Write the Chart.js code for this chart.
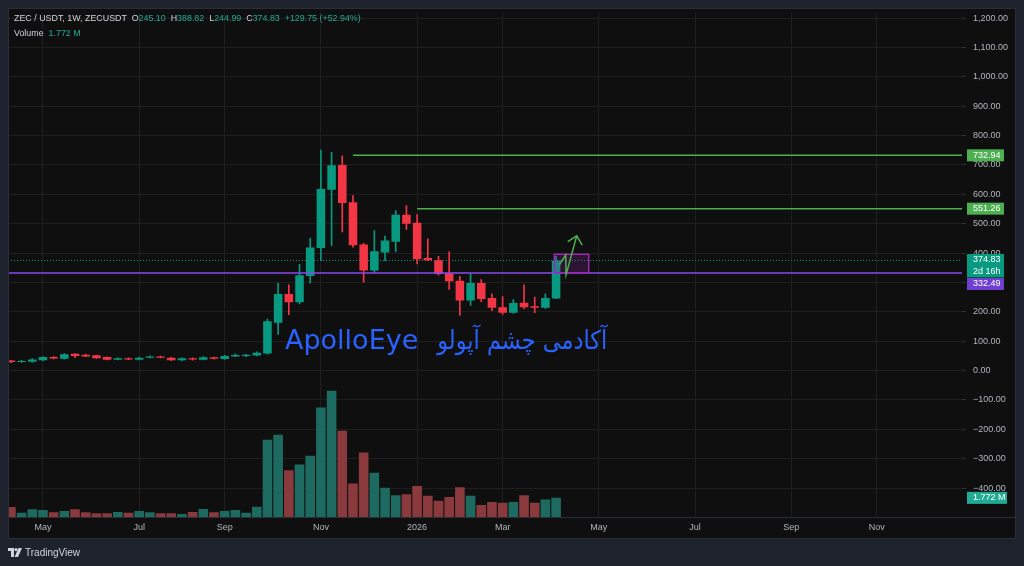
<!DOCTYPE html>
<html>
<head>
<meta charset="utf-8">
<script src="https://cdn.jsdelivr.net/npm/chart.js@4.4.1/dist/chart.umd.min.js"></script>
<style>
html,body{margin:0;padding:0;background:#1e222d;width:1024px;height:566px;overflow:hidden}
#wrap{position:relative;width:1024px;height:566px}
canvas{position:absolute;left:0;top:0}
.hdr{position:absolute;left:14px;font-family:"Liberation Sans",Arial,sans-serif;font-size:8.9px;color:#d1d4dc;white-space:pre;line-height:12px}
.g{color:#22ab94}
#footer{position:absolute;left:8px;top:546px;height:12px;display:flex;align-items:center;font-family:"Liberation Sans",Arial,sans-serif;font-size:10px;color:#d1d4dc}
#footer svg{margin-right:3px}
</style>
</head>
<body>
<div id="wrap">
<canvas id="c" width="1024" height="566"></canvas>
<div class="hdr" style="top:12px">ZEC / USDT, 1W, ZECUSDT  O<span class="g">245.10</span>  H<span class="g">388.82</span>  L<span class="g">244.99</span>  C<span class="g">374.83</span>  <span class="g">+129.75 (+52.94%)</span></div>
<div class="hdr" style="top:26.5px">Volume  <span class="g">1.772 M</span></div>
<div id="footer"><svg width="14" height="9" viewBox="0 0 14 9"><path d="M0 0h6v9H3V3H0z" fill="#d1d4dc"/><circle cx="8" cy="1.6" r="1.6" fill="#d1d4dc"/><path d="M10.5 0H14L10 9H6.6z" fill="#d1d4dc"/></svg><span>TradingView</span></div>
</div>
<script>
// ---- data (weekly candles, ZEC/USDT, from week of 2025-04-14 to week of 2026-04-06) ----
const open  = [34,29,30,35,46,40,57,54,52,46,37,42,37,44,48,44,35,42,37,45,39,48,50,51,58,163,261,233,322,417,616,700,573,429,341,402,439,531,503,383,376,331,306,239,298,247,216,197,231,219,214,245.10];
const high  = [35,35,41,47,48,58,58,56,53,47,43,43,45,50,49,45,43,43,48,46,52,57,55,64,175,298,292,362,450,751,743,731,596,433,477,458,545,562,531,449,389,404,321,331,310,261,252,242,292,250,261,388.82];
const low   = [27,28,29,34,40,39,44,47,41,36,36,37,36,43,43,34,34,35,36,39,38,47,47,50,56,123,190,227,298,374,425,472,420,301,335,374,405,481,363,374,325,276,188,222,235,204,191,195,210,197,212,244.99];
const close = [29,33,38,46,41,56,50,48,42,37,42,38,44,48,44,35,42,38,45,40,50,53,54,61,168,261,233,325,419,618,699,571,427,341,406,443,531,500,379,376,329,304,239,298,244,214,197,230,216,214,247,374.83];
const volume = [0.92,0.39,0.71,0.64,0.43,0.55,0.71,0.43,0.34,0.34,0.46,0.39,0.55,0.43,0.34,0.34,0.28,0.46,0.73,0.43,0.55,0.64,0.39,0.96,7.16,7.62,4.32,4.87,5.67,10.13,11.69,7.99,3.09,5.97,4.10,2.70,2.02,2.11,2.87,1.96,1.50,1.86,2.75,1.96,1.10,1.38,1.31,1.38,2.02,1.31,1.63,1.772]; // millions
const tickIdx  = [3,12,20,29,38,46,55,64,73,81];
const tickText = ['May','Jul','Sep','Nov','2026','Mar','May','Jul','Sep','Nov'];
const priceTicks = [-400,-300,-200,-100,0,100,200,300,400,500,600,700,800,900,1000,1100,1200];
// drawings
const rayLevels = [732.94, 551.26];
const rayStart  = [32, 38];
const purpleLevel = 332.49;
const rectX = [50.83, 54.05];
const rectY = [333, 396];
const arrowX = [51.30, 51.90, 51.93, 52.93];
const arrowY = [360, 393.6, 326, 459];
const headX = [52.09, 53.45];
const headY = [439, 427];
const markAt = [25.64, 74];
const markText = ['ApolloEye', 'آکادمی چشم آپولو'];
const countdown = '2d 16h';

const FRAME='#1e222d', BG='#0f0f0f', GRID='#1e1e1e', TXT='#b2b5be';
const UP='#089981', DN='#f23645', VUP='#1d6b60', VDN='#8a3a3d';
const FAM='"Liberation Sans", Arial, sans-serif';
const lastIdx = close.length-1;
const upAt = i => close[i] >= open[i];
const fmt = v => (v<0?'\u2212':'') + Math.abs(v).toLocaleString('en-US',{minimumFractionDigits:2,maximumFractionDigits:2});

function labelBox(ctx, top, lines, bg, w){
  const h = lines.length*11.5+0.5;
  ctx.fillStyle = bg;
  ctx.fillRect(967, top, w, h);
  ctx.fillStyle = '#ffffff';
  ctx.font = '9px '+FAM;
  ctx.textAlign='left'; ctx.textBaseline='middle';
  lines.forEach((t,k)=>ctx.fillText(t, 973, top+6+k*11.5));
  return top+h;
}

const tv = {
  id:'tv',
  beforeDraw(c){
    const ctx=c.ctx; ctx.save();
    ctx.fillStyle=FRAME; ctx.fillRect(0,0,1024,566);
    ctx.fillStyle=BG; ctx.fillRect(8,8,1008,530);
    ctx.restore();
  },
  beforeDatasetsDraw(c){
    const ctx=c.ctx, y=c.scales.y, a=c.chartArea;
    const py=Math.round(y.getPixelForValue(close[lastIdx]))+0.5;
    ctx.save(); ctx.strokeStyle=UP; ctx.lineWidth=1; ctx.setLineDash([1,2]);
    ctx.beginPath(); ctx.moveTo(a.left,py); ctx.lineTo(a.right,py); ctx.stroke(); ctx.restore();
  },
  afterDatasetsDraw(c){
    const ctx=c.ctx, x=c.scales.x, y=c.scales.y, a=c.chartArea;
    ctx.save();
    ctx.beginPath(); ctx.rect(a.left,a.top,a.right-a.left,a.bottom-a.top); ctx.clip();
    // purple horizontal line
    let py = y.getPixelForValue(purpleLevel);
    ctx.strokeStyle='#8a4af3'; ctx.lineWidth=1.5;
    ctx.beginPath(); ctx.moveTo(a.left,py); ctx.lineTo(a.right,py); ctx.stroke();
    // green rays
    ctx.strokeStyle='#4caf50'; ctx.lineWidth=1.5;
    rayLevels.forEach((lv,k)=>{
      const p=y.getPixelForValue(lv);
      ctx.beginPath(); ctx.moveTo(x.getPixelForValue(rayStart[k]),p); ctx.lineTo(a.right,p); ctx.stroke();
    });
    // rectangle
    const rx0=x.getPixelForValue(rectX[0]), rx1=x.getPixelForValue(rectX[1]);
    const ry0=y.getPixelForValue(rectY[1]), ry1=y.getPixelForValue(rectY[0]);
    ctx.fillStyle='rgba(156,39,176,0.22)';
    ctx.fillRect(rx0,ry0,rx1-rx0,ry1-ry0);
    ctx.strokeStyle='#9c27b0'; ctx.lineWidth=1.5;
    ctx.strokeRect(rx0,ry0,rx1-rx0,ry1-ry0);
    // arrow
    ctx.strokeStyle='#4caf50'; ctx.lineWidth=1.5; ctx.lineJoin='miter';
    ctx.beginPath();
    arrowX.forEach((v,k)=>{const px=x.getPixelForValue(v), pyy=y.getPixelForValue(arrowY[k]); k?ctx.lineTo(px,pyy):ctx.moveTo(px,pyy);});
    ctx.stroke();
    const tx=x.getPixelForValue(arrowX[3]), ty=y.getPixelForValue(arrowY[3]);
    ctx.beginPath();
    ctx.moveTo(x.getPixelForValue(headX[0]), y.getPixelForValue(headY[0]));
    ctx.lineTo(tx,ty);
    ctx.lineTo(x.getPixelForValue(headX[1]), y.getPixelForValue(headY[1]));
    ctx.stroke();
    // watermark text
    const mx=x.getPixelForValue(markAt[0]), my=y.getPixelForValue(markAt[1]);
    ctx.fillStyle='#2962ff';
    ctx.font='27px "DejaVu Sans", sans-serif';
    ctx.textBaseline='alphabetic'; ctx.textAlign='left';
    ctx.fillText(markText[0], mx, my);
    const w1 = ctx.measureText(markText[0]).width;
    ctx.font='26px "DejaVu Sans", sans-serif';
    ctx.direction='rtl'; ctx.textAlign='left';
    const w2 = ctx.measureText(markText[1]).width;
    const target = 170, sx = Math.min(1, target / w2);
    const px0 = mx + w1 + 19;
    ctx.translate(px0, my); ctx.scale(sx, 1);
    ctx.fillText(markText[1], 0, 0);
    ctx.restore();
  },
  afterDraw(c){
    const ctx=c.ctx, y=c.scales.y, yv=c.scales.yv;
    ctx.save();
    // time axis top line and frame border
    ctx.strokeStyle='#2a2e39'; ctx.lineWidth=1;
    ctx.beginPath(); ctx.moveTo(8,517.5); ctx.lineTo(1016,517.5); ctx.stroke();
    ctx.strokeRect(8.5,8.5,1007,530);
    // price labels
    rayLevels.forEach(lv=>labelBox(ctx, y.getPixelForValue(lv)-6, [lv.toFixed(2)], '#4caf50', 37));
    const tealBottom = labelBox(ctx, y.getPixelForValue(close[lastIdx])-6.5, [close[lastIdx].toFixed(2), countdown], UP, 37);
    let pt = y.getPixelForValue(purpleLevel)-6;
    if (pt < tealBottom+0.5) pt = tealBottom+0.5;
    labelBox(ctx, pt, [purpleLevel.toFixed(2)], '#6e3fd0', 37);
    labelBox(ctx, yv.getPixelForValue(volume[lastIdx])-6, [volume[lastIdx].toFixed(3)+' M'], '#22ab94', 40);
    ctx.restore();
  }
};

const idx = open.map((_,i)=>i);
new Chart(document.getElementById('c'), {
  type:'bar',
  data:{
    datasets:[
      { label:'body', order:0, grouped:false, yAxisID:'y',
        data: idx.map(i=>({x:i, y:[open[i], close[i]]})),
        backgroundColor: idx.map(i=>upAt(i)?UP:DN),
        barPercentage:0.8, categoryPercentage:1 },
      { label:'wick', order:1, grouped:false, yAxisID:'y',
        data: idx.map(i=>({x:i, y:[low[i], high[i]]})),
        backgroundColor: idx.map(i=>upAt(i)?UP:DN),
        barThickness:1 },
      { label:'volume', order:2, grouped:false, yAxisID:'yv',
        data: idx.map(i=>({x:i, y:volume[i]})),
        backgroundColor: idx.map(i=>upAt(i)?VUP:VDN),
        barPercentage:0.9, categoryPercentage:1 }
    ]
  },
  options:{
    responsive:false, animation:false, devicePixelRatio:1,
    layout:{padding:{left:8,right:8,top:8,bottom:28}},
    plugins:{legend:{display:false}, tooltip:{enabled:false}},
    scales:{
      x:{ type:'linear', min:-0.27, max:88.97, offset:false,
          grid:{color:GRID, drawTicks:false, offset:false},
          border:{display:false},
          ticks:{color:TXT, font:{family:FAM,size:9}, padding:5, autoSkip:false, maxRotation:0,
                 callback:(v,i)=>tickText[i]},
          afterBuildTicks:s=>{ s.ticks = tickIdx.map(v=>({value:v})); },
          afterFit:s=>{ s.height=21; } },
      y:{ type:'linear', position:'right', min:-498.6, max:1219.6,
          grid:{color:GRID, tickColor:'#2a2e39', tickLength:4},
          border:{display:false},
          ticks:{color:TXT, font:{family:FAM,size:9}, padding:7, callback:v=>fmt(v)},
          afterBuildTicks:s=>{ s.ticks = priceTicks.map(v=>({value:v})); },
          afterFit:s=>{ s.width=54; } },
      yv:{ type:'linear', position:'right', min:0, max:46.7, display:false, grid:{display:false} }
    }
  },
  plugins:[tv]
});
</script>
</body>
</html>
